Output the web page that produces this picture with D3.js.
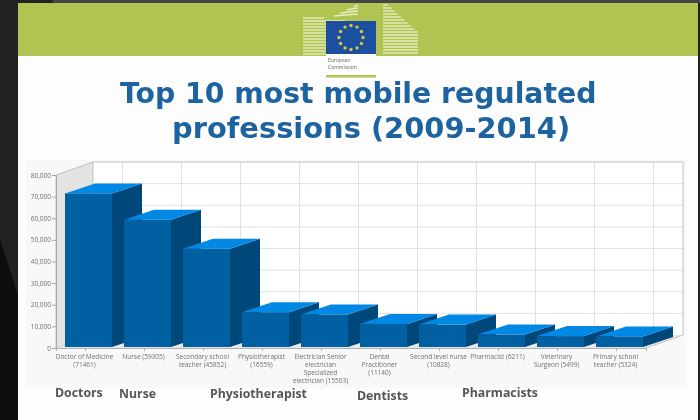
<!DOCTYPE html>
<html>
<head>
<meta charset="utf-8">
<title>Top 10 most mobile regulated professions</title>
<script src="https://cdn.jsdelivr.net/npm/d3@7"></script>
<style>
    html, body { margin: 0; padding: 0; background: #1c1c1c; }
    svg { display: block; }
</style>
</head>
<body>
<svg id="chart" width="700" height="420"></svg>
<script>
// values
const categories = ["Doctor of Medicine", "Nurse", "Secondary school teacher", "Physiotherapist",
    "Electrician Senior electrician Specialized electrician", "Dental Practitioner",
    "Second level nurse", "Pharmacist", "Veterinary Surgeon", "Primary school teacher"];
const categoryLines = [
    ["Doctor of Medicine", "(71461)"],
    ["Nurse (59305)"],
    ["Secondary school", "teacher (45852)"],
    ["Physiotherapist", "(16559)"],
    ["Electrician Senior", "electrician", "Specialized", "electrician (15503)"],
    ["Dental", "Practitioner", "(11140)"],
    ["Second level nurse", "(10828)"],
    ["Pharmacist (6211)"],
    ["Veterinary", "Surgeon (5499)"],
    ["Primary school", "teacher (5324)"]
];
const values = [71461, 59305, 45852, 16559, 15503, 11140, 10828, 6211, 5499, 5324];
const yTicks = [0, 10000, 20000, 30000, 40000, 50000, 60000, 70000, 80000];
const titleLines = ["Top 10 most mobile regulated", "professions (2009-2014)"];
const notes = ["Doctors", "Nurse", "Physiotherapist", "Dentists", "Pharmacists"];

const svg = d3.select("#chart");

// slight softening, the source is a low resolution photo of a slide
const defs = svg.append("defs");
defs.append("filter").attr("id", "soft").append("feGaussianBlur").attr("stdDeviation", 0.6);
const root = svg.append("g").attr("filter", "url(#soft)");

// dark backdrop around the slide
root.append("rect").attr("x", -5).attr("y", -5).attr("width", 710).attr("height", 430).attr("fill", "#212121");
root.append("path").attr("d", "M-5,225 L18,295 L18,425 L-5,425 Z").attr("fill", "#080808");
root.append("rect").attr("x", 53).attr("y", -5).attr("width", 652).attr("height", 8).attr("fill", "#444444");

// slide
root.append("rect").attr("x", 18).attr("y", 3).attr("width", 680).attr("height", 422).attr("fill", "#fdfdfd");
root.append("rect").attr("x", 18).attr("y", 3).attr("width", 680).attr("height", 53).attr("fill", "#afc451");

// building lines in the green band
const bandG = root.append("g").attr("stroke", "#e6edc0").attr("stroke-width", 1.4);
d3.range(18, 55, 3).forEach(y => {
    bandG.append("line").attr("x1", 303).attr("x2", y < 24 ? 303 + (y - 15) * 7 : 326).attr("y1", y).attr("y2", y);
});
d3.range(5, 16, 3).forEach(y => {
    bandG.append("line").attr("x1", 358 - (y - 3) * 2.2).attr("x2", 358).attr("y1", y + 2).attr("y2", y);
});
d3.range(5, 55, 3).forEach(y => {
    bandG.append("line").attr("x1", 383).attr("x2", Math.min(418, 388 + (y - 5) * 1.1)).attr("y1", y).attr("y2", y);
});

// EU flag
root.append("rect").attr("x", 326).attr("y", 21).attr("width", 50).attr("height", 33).attr("fill", "#1c4f9e");
root.append("g").selectAll("circle").data(d3.range(12)).join("circle")
    .attr("cx", d => 351 + 12 * Math.cos(d * Math.PI / 6))
    .attr("cy", d => 37.5 + 12 * Math.sin(d * Math.PI / 6))
    .attr("r", 1.7).attr("fill", "#d4c93a");
root.append("rect").attr("x", 326).attr("y", 54).attr("width", 50).attr("height", 11).attr("fill", "#fdfdfd");
root.selectAll("text.eu").data(["European", "Commission"]).join("text")
    .attr("class", "eu").attr("x", 328).attr("y", (d, i) => 62 + i * 7)
    .attr("font-family", "Open Sans").attr("font-size", 5).attr("fill", "#666").text(d => d);
root.append("rect").attr("x", 326).attr("y", 75).attr("width", 50).attr("height", 2.5).attr("fill", "#afc451");

// title
root.selectAll("text.title").data(titleLines).join("text")
    .attr("class", "title")
    .attr("x", (d, i) => i === 0 ? 120 : 172)
    .attr("y", (d, i) => i === 0 ? 103 : 138)
    .attr("font-family", "DejaVu Sans").attr("font-weight", "bold")
    .attr("font-size", (d, i) => i === 0 ? 28.3 : 28.9)
    .attr("fill", "#1f639f").text(d => d);

// chart panel
root.append("rect").attr("x", 26).attr("y", 160).attr("width", 660).attr("height", 228).attr("fill", "#f8f8f8");

// scales, the back wall is the front plane shifted by depth
const depthX = 37, depthY = -13;
const barDepthX = 30, barDepthY = -10;
const x = d3.scaleBand().domain(categories).range([56, 646]);
const y = d3.scaleLinear().domain([0, 80000]).range([348, 175]);
const floorY = y(0), topY = y(80000), left = x.range()[0], right = x.range()[1];

// walls and floor
const plot = root.append("g");
plot.append("rect").attr("x", left + depthX).attr("y", topY + depthY)
    .attr("width", right - left).attr("height", floorY - topY).attr("fill", "#ffffff");
plot.append("path")
    .attr("d", `M${left},${topY} L${left + depthX},${topY + depthY} L${left + depthX},${floorY + depthY} L${left},${floorY} Z`)
    .attr("fill", "#e3e3e3").attr("stroke", "#b5b5b5").attr("stroke-width", 0.8);
plot.append("path")
    .attr("d", `M${left},${floorY} L${left + depthX},${floorY + depthY} L${right + depthX},${floorY + depthY} L${right},${floorY} Z`)
    .attr("fill", "#e8e8e8");

// grid on the back wall
plot.append("g").selectAll("line").data(yTicks.slice(1, -1)).join("line")
    .attr("x1", left + depthX).attr("x2", right + depthX)
    .attr("y1", d => y(d) + depthY).attr("y2", d => y(d) + depthY)
    .attr("stroke", "#e2e2e2").attr("stroke-width", 1);
plot.append("g").selectAll("line").data(categories).join("line")
    .attr("x1", d => x(d) + x.bandwidth() / 2 + depthX).attr("x2", d => x(d) + x.bandwidth() / 2 + depthX)
    .attr("y1", topY + depthY).attr("y2", floorY + depthY)
    .attr("stroke", "#e2e2e2").attr("stroke-width", 1);
plot.append("path")
    .attr("d", `M${left + depthX},${topY + depthY} L${right + depthX},${topY + depthY} L${right + depthX},${floorY + depthY} L${right},${floorY}`)
    .attr("fill", "none").attr("stroke", "#c4c4c4").attr("stroke-width", 1);

// y axis
const yAxis = d3.axisLeft(y).tickValues(yTicks).tickSize(4).tickPadding(1).tickFormat(d3.format(","));
const yG = root.append("g").attr("transform", `translate(${left},0)`).call(yAxis);
yG.selectAll("text").attr("font-family", "Open Sans").attr("font-size", 6.5).attr("fill", "#6f6f6f");
yG.selectAll("line, path").attr("stroke", "#a8a8a8");

// x axis
const xAxis = d3.axisBottom(x).tickSize(3).tickFormat("");
const xG = root.append("g").attr("transform", `translate(0,${floorY})`).call(xAxis);
xG.selectAll("line, path").attr("stroke", "#b0b0b0");

// bars, drawn left to right so the next bar covers the side of the last one
const barW = 47, barShift = -20.5;
const bars = root.append("g").selectAll("g").data(categories).join("g")
    .attr("transform", d => `translate(${x(d) + x.bandwidth() / 2 + barShift},0)`);
const base = floorY - 1;
bars.append("path")
    .attr("d", (d, i) => `M${barW},${y(values[i])} L${barW + barDepthX},${y(values[i]) + barDepthY} L${barW + barDepthX},${base + barDepthY} L${barW},${base} Z`)
    .attr("fill", "#00477a");
bars.append("path")
    .attr("d", (d, i) => `M0,${y(values[i])} L${barDepthX},${y(values[i]) + barDepthY} L${barW + barDepthX},${y(values[i]) + barDepthY} L${barW},${y(values[i])} Z`)
    .attr("fill", "#0088e4");
bars.append("rect")
    .attr("y", (d, i) => y(values[i])).attr("width", barW)
    .attr("height", (d, i) => base - y(values[i]))
    .attr("fill", "#0060a2");

// category labels, wrapped as on the slide
const catLabels = root.append("g").selectAll("text").data(categories).join("text")
    .attr("text-anchor", "middle")
    .attr("font-family", "Open Sans").attr("font-size", 6.5).attr("fill", "#6f6f6f");
catLabels.each(function(d, i) {
    d3.select(this).selectAll("tspan").data(categoryLines[i]).join("tspan")
        .attr("x", x(d) + x.bandwidth() / 2 - 1)
        .attr("y", (l, k) => 359 + k * 8)
        .text(l => l);
});

// hand written notes under the chart
const noteX = [55, 119, 210, 357, 462];
const noteY = [397, 398, 398, 400, 397];
root.selectAll("text.note").data(notes).join("text")
    .attr("class", "note")
    .attr("x", (d, i) => noteX[i]).attr("y", (d, i) => noteY[i])
    .attr("font-family", "Open Sans").attr("font-weight", 700).attr("font-size", 12.3)
    .attr("fill", "#555").text(d => d);
</script>
</body>
</html>
